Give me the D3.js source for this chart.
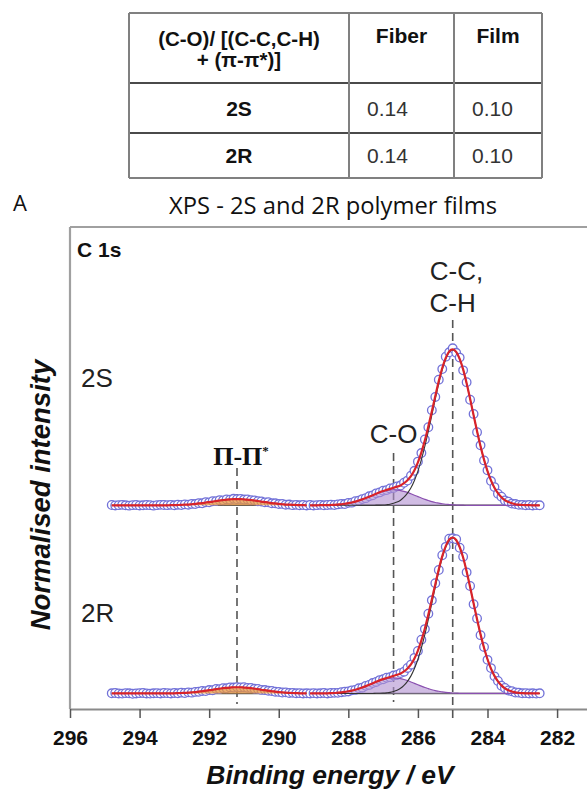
<!DOCTYPE html>
<html>
<head>
<meta charset="utf-8">
<script src="https://cdn.jsdelivr.net/npm/d3@7"></script>
<style>
  body { margin: 0; background: #fff; }
  svg { display: block; }
</style>
</head>
<body>
<svg id="chart" width="587" height="789"></svg>
<script>
// ---------- Table: C-O / [(C-C,C-H) + (pi-pi*)] ratios ----------
const tableHeaderLines = ["(C-O)/ [(C-C,C-H)", "+ (\u03C0-\u03C0*)]"];
const tableColumns = ["Fiber", "Film"];
const tableRows = ["2S", "2R"];
const fiberRatio = ["0.14", "0.14"];
const filmRatio = ["0.10", "0.10"];

// ---------- XPS C 1s spectra ----------
const films = ["2S", "2R"];
const filmOffsets = [1.21, 0];

const xTickValues = [296, 294, 292, 290, 288, 286, 284, 282];
const xMinorTickValues = [295, 293, 291, 289, 287, 285, 283];

const peakLabels = ["\u03A0-\u03A0", "C-O", "C-C,", "C-H"];
const peakEnergies = [291.2, 286.7, 285.0];

// binding energies (eV) for the pi-pi* window and the main C 1s window
const energyPi = [294.8,294.7,294.6,294.5,294.4,294.3,294.2,294.1,294.0,293.9,293.8,293.7,293.6,293.5,293.4,293.3,
  293.2,293.1,293.0,292.9,292.8,292.7,292.6,292.5,292.4,292.3,292.2,292.1,292.0,291.9,291.8,291.7,291.6,291.5,
  291.4,291.3,291.2,291.1,291.0,290.9,290.8,290.7,290.6,290.5,290.4,290.3,290.2,290.1,290.0,289.9,289.8,289.7,
  289.6,289.5,289.4,289.3,289.2];
const energyMain = [289.1,289.0,288.9,288.8,288.7,288.6,288.5,288.4,288.3,288.2,288.1,288.0,287.9,287.8,287.7,
  287.6,287.5,287.4,287.3,287.2,287.1,287.0,286.9,286.8,286.7,286.6,286.5,286.4,286.3,286.2,286.1,286.0,285.9,
  285.8,285.7,285.6,285.5,285.4,285.3,285.2,285.1,285.0,284.9,284.8,284.7,284.6,284.5,284.4,284.3,284.2,284.1,
  284.0,283.9,283.8,283.7,283.6,283.5,283.4,283.3,283.2,283.1,283.0,282.9,282.8,282.7,282.6,282.5];

// fitted components (normalised intensity)
const piComponent = [0,0,0,0,0,0,0,0,0,0,0,0,0,0,0,0,
  0.000,0.001,0.001,0.002,0.003,0.004,0.005,0.007,0.009,0.012,0.014,0.018,0.021,0.024,0.028,0.031,0.034,0.036,
  0.038,0.040,0.040,0.040,0.038,0.036,0.034,0.031,0.028,0.024,0.021,0.018,0.014,0.012,0.009,0.007,0.005,0.004,
  0.003,0.002,0.001,0.001,0.000];
const ccComponent = [0,0,0,0,0,0,0,0,0,0,0,0,0,0,0,0,0,
  0,0,0.001,0.001,0.002,0.004,0.007,0.013,0.021,0.033,0.052,0.078,0.113,0.160,0.220,0.294,0.380,0.477,0.580,
  0.685,0.785,0.873,0.941,0.985,1.000,0.985,0.941,0.873,0.785,0.685,0.580,0.477,0.380,0.294,0.220,0.160,0.113,
  0.078,0.052,0.033,0.021,0.013,0.007,0.004,0.002,0.001,0.001,0,0,0];
const coComponent = [0,0,0,0.001,0.001,0.001,0.002,0.003,0.005,0.007,0.010,0.014,0.018,0.024,0.031,0.038,0.047,
  0.056,0.065,0.074,0.083,0.090,0.095,0.099,0.100,0.099,0.095,0.090,0.083,0.074,0.065,0.056,0.047,0.038,0.031,
  0.024,0.018,0.014,0.010,0.007,0.005,0.003,0.002,0.001,0.001,
  0,0,0,0,0,0,0,0,0,0,0,0,0,0,0,0,0,0,0,0,0,0];

// measured intensities
const intensity2S_pi = [0.002,-0.001,0.001,0.003,0.000,-0.002,0.001,0.002,-0.001,0.000,0.002,0.001,-0.002,0.001,0.003,0.002,
  0.001,0.003,0.000,0.004,0.002,0.006,0.004,0.009,0.008,0.014,0.013,0.020,0.019,0.026,0.027,0.033,0.032,0.038,
  0.036,0.042,0.039,0.041,0.037,0.038,0.033,0.032,0.026,0.025,0.019,0.020,0.013,0.013,0.008,0.009,0.004,0.005,
  0.001,0.003,0.000,0.002,-0.001];
const intensity2S_main = [0.002,-0.001,0.001,0.003,0.000,0.002,0.004,0.002,0.006,0.009,0.008,0.016,0.017,0.026,
  0.030,0.040,0.046,0.058,0.064,0.077,0.083,0.094,0.098,0.108,0.112,0.122,0.127,0.145,0.159,0.190,0.222,0.281,
  0.336,0.424,0.502,0.612,0.697,0.808,0.876,0.956,0.984,1.010,0.981,0.950,0.868,0.792,0.679,0.588,0.470,0.386,
  0.289,0.225,0.156,0.117,0.075,0.055,0.031,0.023,0.011,0.008,0.003,0.003,0.000,0.002,-0.001,0.001,0.000];
const intensity2R_pi = [0.001,0.003,0.000,-0.001,0.002,0.001,-0.002,0.000,0.002,0.003,0.000,-0.001,0.001,0.002,0.000,0.003,
  0.002,0.000,0.003,0.001,0.005,0.003,0.007,0.005,0.010,0.011,0.016,0.015,0.022,0.021,0.029,0.028,0.034,0.033,
  0.039,0.038,0.041,0.039,0.040,0.036,0.035,0.030,0.029,0.023,0.022,0.017,0.016,0.011,0.010,0.006,0.007,0.003,
  0.004,0.001,0.002,0.000,0.001];
const intensity2R_main = [0.000,0.002,0.000,0.001,0.003,0.000,0.003,0.004,0.004,0.008,0.011,0.013,0.020,0.023,
  0.033,0.037,0.049,0.055,0.067,0.074,0.086,0.091,0.101,0.105,0.115,0.119,0.131,0.140,0.164,0.185,0.229,0.273,
  0.346,0.414,0.513,0.599,0.709,0.794,0.889,0.943,0.995,0.998,0.992,0.937,0.880,0.779,0.691,0.574,0.482,0.375,
  0.299,0.216,0.163,0.110,0.080,0.050,0.035,0.019,0.014,0.006,0.005,0.001,0.002,0.000,0.001,-0.001,0.001];

const measured = {
  "2S": { pi: intensity2S_pi, main: intensity2S_main },
  "2R": { pi: intensity2R_pi, main: intensity2R_main }
};

// ---------- drawing ----------
const W = 587, H = 789;
const sans = "'Liberation Sans', Arial, sans-serif";
const svg = d3.select("#chart");
svg.append("rect").attr("width", W).attr("height", H).attr("fill", "#fff");

// table
const colEdges = [129, 349, 454, 542];
const rowEdges = [13, 83, 133, 178];
const table = svg.append("g");
rowEdges.forEach((ry, i) => {
  table.append("line").attr("x1", colEdges[0]).attr("x2", colEdges[3]).attr("y1", ry).attr("y2", ry)
    .attr("stroke", (i === 0 || i === rowEdges.length - 1) ? "#808080" : "#4a4a4a").attr("stroke-width", 2);
});
colEdges.forEach(cx => {
  table.append("line").attr("x1", cx).attr("x2", cx).attr("y1", rowEdges[0]).attr("y2", rowEdges[3])
    .attr("stroke", "#808080").attr("stroke-width", 2);
});
const c0 = (colEdges[0] + colEdges[1]) / 2;
table.selectAll("text.hdr").data(tableHeaderLines).join("text")
  .attr("x", c0).attr("y", (d, i) => 46 + i * 21)
  .attr("text-anchor", "middle").attr("font-family", sans).attr("font-weight", "bold")
  .attr("font-size", 20.5).attr("fill", "#111").text(d => d);
table.selectAll("text.col").data(tableColumns).join("text")
  .attr("x", (d, i) => (colEdges[i + 1] + colEdges[i + 2]) / 2).attr("y", 43)
  .attr("text-anchor", "middle").attr("font-family", sans).attr("font-weight", "bold")
  .attr("font-size", 21).attr("fill", "#111").text(d => d);
tableRows.forEach((r, i) => {
  const by = (rowEdges[i + 1] + rowEdges[i + 2]) / 2 + 7.5;
  table.append("text").attr("x", c0).attr("y", by).attr("text-anchor", "middle")
    .attr("font-family", sans).attr("font-weight", "bold").attr("font-size", 21).attr("fill", "#111").text(r);
  table.append("text").attr("x", colEdges[1] + 18).attr("y", by)
    .attr("font-family", sans).attr("font-size", 21).attr("fill", "#333").text(fiberRatio[i]);
  table.append("text").attr("x", colEdges[2] + 18).attr("y", by)
    .attr("font-family", sans).attr("font-size", 21).attr("fill", "#333").text(filmRatio[i]);
});

// panel letter and title
svg.append("text").attr("x", 20).attr("y", 211).attr("text-anchor", "middle")
  .attr("font-family", "'Open Sans', sans-serif").attr("font-size", 22).attr("fill", "#111").text("A");
svg.append("text").attr("x", 333).attr("y", 214).attr("text-anchor", "middle")
  .attr("font-family", "'Open Sans', sans-serif").attr("font-size", 23.5).attr("fill", "#111")
  .attr("textLength", 328).attr("lengthAdjust", "spacingAndGlyphs")
  .text("XPS - 2S and 2R polymer films");

// scales
const plotLeft = 70, plotTop = 227, axisY = 709;
const x = d3.scaleLinear().domain([296, 281.14]).range([plotLeft, W]);
const y = d3.scaleLinear().domain([-0.1, 3.0]).range([axisY, plotTop]);

// frame
svg.append("line").attr("x1", plotLeft).attr("x2", W).attr("y1", plotTop).attr("y2", plotTop)
  .attr("stroke", "#a0a0a0").attr("stroke-width", 2.2);
svg.append("line").attr("x1", plotLeft).attr("x2", plotLeft).attr("y1", plotTop).attr("y2", axisY)
  .attr("stroke", "#a0a0a0").attr("stroke-width", 2.2);

// x axis
const gx = svg.append("g").attr("transform", `translate(0,${axisY})`);
gx.call(d3.axisBottom(x).tickValues(xMinorTickValues).tickSize(5).tickSizeOuter(0).tickFormat(""));
gx.call(d3.axisBottom(x).tickValues(xTickValues).tickSize(9).tickSizeOuter(0).tickFormat(d3.format("d")));
gx.select(".domain").attr("stroke", "#8a8a8a").attr("stroke-width", 2);
gx.selectAll(".tick line").attr("stroke", "#555").attr("stroke-width", 1.5);
gx.selectAll(".tick text").attr("y", 36).attr("dy", 0)
  .attr("font-family", sans).attr("font-weight", "bold").attr("font-size", 21).attr("fill", "#111");

// axis titles
svg.append("text").attr("x", 330).attr("y", 784).attr("text-anchor", "middle")
  .attr("font-family", sans).attr("font-weight", "bold").attr("font-style", "italic")
  .attr("font-size", 26.5).attr("fill", "#111").text("Binding energy / eV");
svg.append("text").attr("transform", "translate(50,495) rotate(-90)").attr("text-anchor", "middle")
  .attr("font-family", sans).attr("font-weight", "bold").attr("font-style", "italic")
  .attr("font-size", 27.5).attr("fill", "#111").text("Normalised intensity");

// core level label and film labels
svg.append("text").attr("x", 77).attr("y", 257).attr("font-family", sans).attr("font-weight", "bold")
  .attr("font-size", 21).attr("fill", "#111").text("C 1s");
const filmLabelY = [387, 622];
films.forEach((f, i) => {
  svg.append("text").attr("x", 81).attr("y", filmLabelY[i]).attr("font-family", sans)
    .attr("font-size", 26).attr("fill", "#222").text(f);
});

// peak position markers
const dashSpans = [[468, 704], [453, 702], [320, 722]];
peakEnergies.forEach((e, i) => {
  svg.append("line").attr("x1", x(e)).attr("x2", x(e)).attr("y1", dashSpans[i][0]).attr("y2", dashSpans[i][1])
    .attr("stroke", "#555").attr("stroke-width", 1.6).attr("stroke-dasharray", "8,5");
});
const piLabel = svg.append("text").attr("x", x(peakEnergies[0]) + 4).attr("y", 465).attr("text-anchor", "middle")
  .attr("font-family", "'Liberation Serif', 'Times New Roman', serif").attr("font-weight", "bold")
  .attr("font-size", 26).attr("fill", "#111");
piLabel.append("tspan").text(peakLabels[0]);
piLabel.append("tspan").attr("font-size", 13).attr("dy", -10).text("*");
svg.append("text").attr("x", x(peakEnergies[1])).attr("y", 443).attr("text-anchor", "middle")
  .attr("font-family", sans).attr("font-size", 26).attr("fill", "#222").text(peakLabels[1]);
svg.append("text").attr("x", x(peakEnergies[2]) - 23).attr("y", 280)
  .attr("font-family", sans).attr("font-size", 26).attr("fill", "#222").text(peakLabels[2]);
svg.append("text").attr("x", x(peakEnergies[2])).attr("y", 312).attr("text-anchor", "middle")
  .attr("font-family", sans).attr("font-size", 26).attr("fill", "#222").text(peakLabels[3]);

// spectra
films.forEach((film, fi) => {
  const off = filmOffsets[fi];
  const g = svg.append("g");
  const piPts = energyPi.map((e, i) => ({ e, comp: piComponent[i], m: measured[film].pi[i] }));
  const mainPts = energyMain.map((e, i) => ({ e, cc: ccComponent[i], co: coComponent[i], m: measured[film].main[i] }));

  const line = acc => d3.line().x(d => x(d.e)).y(d => y(off + acc(d))).curve(d3.curveMonotoneX);
  const area = acc => d3.area().x(d => x(d.e)).y0(y(off)).y1(d => y(off + acc(d))).curve(d3.curveMonotoneX);

  // background lines
  [piPts, mainPts].forEach(pts => {
    g.append("line").attr("x1", x(pts[0].e)).attr("x2", x(pts[pts.length - 1].e))
      .attr("y1", y(off)).attr("y2", y(off)).attr("stroke", "#555").attr("stroke-width", 1.4);
  });

  // measured points
  g.selectAll("circle.m").data(piPts.concat(mainPts)).join("circle")
    .attr("cx", d => x(d.e)).attr("cy", d => y(off + d.m)).attr("r", 4.3)
    .attr("fill", "#fff").attr("stroke", "#7272d8").attr("stroke-width", 1.3);

  // component fills and outlines
  g.append("path").attr("d", area(d => d.comp)(piPts)).attr("fill", "#e8943c").attr("fill-opacity", 0.75);
  g.append("path").attr("d", line(d => d.comp)(piPts)).attr("fill", "none").attr("stroke", "#a8561c").attr("stroke-width", 1.2);
  g.append("path").attr("d", area(d => d.co)(mainPts)).attr("fill", "#b090d0").attr("fill-opacity", 0.6);
  g.append("path").attr("d", line(d => d.co)(mainPts)).attr("fill", "none").attr("stroke", "#8a50b0").attr("stroke-width", 1.2);
  g.append("path").attr("d", line(d => d.cc)(mainPts)).attr("fill", "none").attr("stroke", "#333").attr("stroke-width", 1.1);

  // fit envelopes
  g.append("path").attr("d", line(d => d.comp)(piPts)).attr("fill", "none").attr("stroke", "#d8232a").attr("stroke-width", 2.2);
  g.append("path").attr("d", line(d => d.cc + d.co)(mainPts)).attr("fill", "none").attr("stroke", "#d8232a").attr("stroke-width", 2.2);
});
</script>
</body>
</html>
